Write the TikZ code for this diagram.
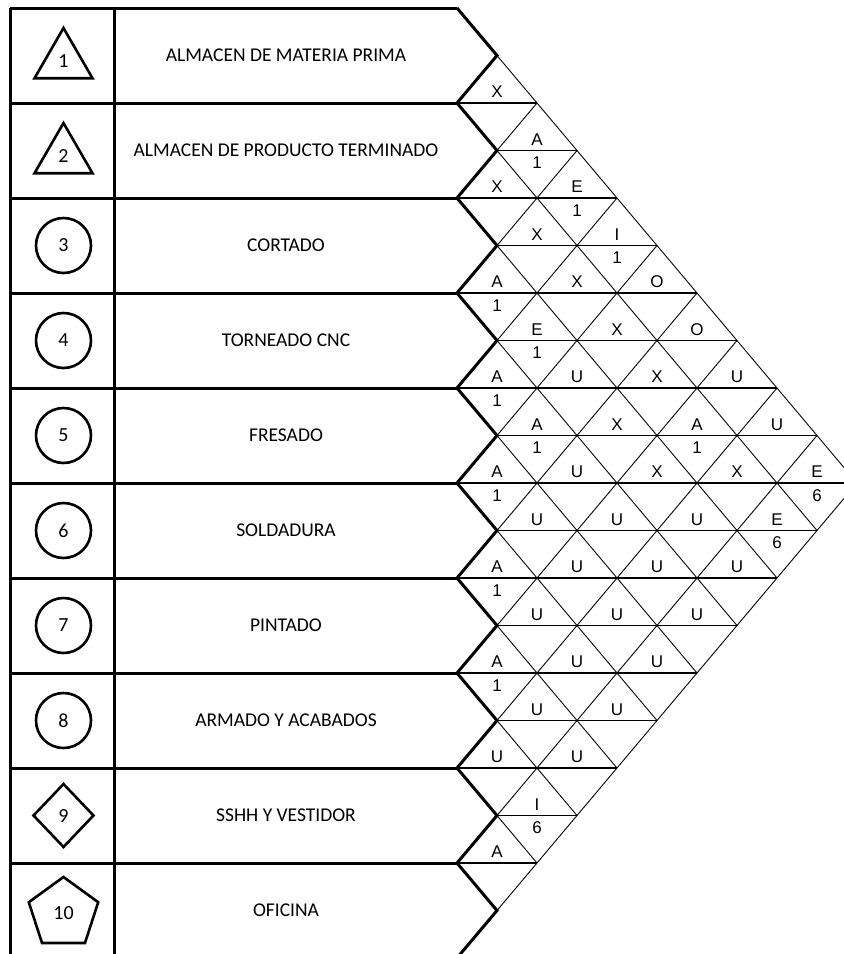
\documentclass[tikz,border=0pt]{standalone}
\usepackage{fontspec}
\setmainfont{Carlito}
\newfontfamily\gridfont{Liberation Sans}
\usetikzlibrary{shapes.geometric}
\tikzset{
  marco/.style={line width=3pt, line join=miter},
  rejilla/.style={line width=0.9pt},
  horiz/.style={line width=1.3pt},
  simbolo/.style={draw, line width=2.6pt, inner sep=0pt, font=\fontsize{20}{20}\selectfont},
  area/.style={font=\fontsize{19.5}{20}\selectfont},
  letra/.style={inner sep=0pt, font=\gridfont\fontsize{17}{17}\selectfont},
}
\begin{document}
\begin{tikzpicture}[x=1pt, y=-1pt]
  \useasboundingbox (0,0) rectangle (844,954);
  \clip (0,0) rectangle (844,954);
  % tabla de areas
  \draw[marco] (10,8) -- (457,8);
  \draw[marco] (10,8) -- (10,958);
  \draw[marco] (114,8) -- (114,958);
  \foreach \k in {1,...,9}
    \draw[marco] (10,8+95*\k) -- (457,8+95*\k);
  % puntas de cada fila
  \foreach \k in {1,...,10}
    \draw[marco] (457,8+95*\k-95) -- (497,55.5+95*\k-95) -- (457,8+95*\k);
  % diagonales de la matriz
  \foreach \k in {1,...,10} {
    \coordinate (t\k) at (497,55.5+95*\k-95);
    \draw[rejilla] (t\k) -- ++(400-40*\k, 475-47.5*\k);
    \draw[rejilla] (t\k) -- ++(40*\k-40, 47.5-47.5*\k);
  }
  % lineas horizontales (letra arriba, razon abajo)
  \foreach \s in {3,...,19} {
    \pgfmathsetmacro\yy{8+47.5*(\s-1)}
    \pgfmathsetmacro\xl{isodd(\s) ? 457 : 497}
    \pgfmathsetmacro\xr{497+40*min(\s-2,20-\s)}
    \draw[horiz] (\xl,\yy) -- (\xr,\yy);
  }
  % simbolos
  \node[simbolo, regular polygon, regular polygon sides=3, minimum size=67] (s1) at (63.5,61.5) {1};
  \node[simbolo, regular polygon, regular polygon sides=3, minimum size=67] (s2) at (63.5,156.5) {2};
  \foreach \k in {3,...,8}
    \node[simbolo, circle, minimum size=55] (s\k) at (63.5,55.5+95*\k-95) {\k};
  \node[simbolo, diamond, minimum width=61, minimum height=64] (s9) at (63.5,815.5) {9};
  \node[simbolo, regular polygon, regular polygon sides=5, minimum size=73] (s10) at (63.5,913.5) {10};
  % nombres de las areas
  \foreach \k/\nombre in {1/ALMACEN DE MATERIA PRIMA, 2/ALMACEN DE PRODUCTO TERMINADO,
      3/CORTADO, 4/TORNEADO CNC, 5/FRESADO, 6/SOLDADURA, 7/PINTADO,
      8/ARMADO Y ACABADOS, 9/SSHH Y VESTIDOR, 10/OFICINA}
    \node[area] (a\k) at (286,55.5+95*\k-95) {\nombre};
  % codigos de proximidad
  \foreach \i/\j/\r in {1/2/X, 2/3/X, 3/4/A, 4/5/A, 5/6/A, 6/7/A, 7/8/A, 8/9/U, 9/10/A,
      1/3/A, 2/4/X, 3/5/E, 4/6/A, 5/7/U, 6/8/U, 7/9/U, 8/10/I,
      1/4/E, 2/5/X, 3/6/U, 4/7/U, 5/8/U, 6/9/U, 7/10/U,
      1/5/I, 2/6/X, 3/7/X, 4/8/U, 5/9/U, 6/10/U,
      1/6/O, 2/7/X, 3/8/X, 4/9/U, 5/10/U,
      1/7/O, 2/8/A, 3/9/U, 4/10/U,
      1/8/U, 2/9/X, 3/10/U,
      1/9/U, 2/10/E,
      1/10/E} {
    \pgfmathsetmacro\xc{457+40*(\j-\i)}
    \pgfmathsetmacro\yc{8+47.5*(\i+\j-1)}
    \node[letra] (r\i-\j) at (\xc,\yc-11) {\r};
  }
  % razones
  \foreach \i/\j/\n in {1/3/1, 1/4/1, 1/5/1, 3/4/1, 3/5/1, 4/5/1, 4/6/1, 2/8/1,
      5/6/1, 1/10/6, 2/10/6, 6/7/1, 7/8/1, 8/10/6} {
    \pgfmathsetmacro\xc{457+40*(\j-\i)}
    \pgfmathsetmacro\yc{8+47.5*(\i+\j-1)}
    \node[letra] (n\i-\j) at (\xc,\yc+12.5) {\n};
  }
\end{tikzpicture}
\end{document}
